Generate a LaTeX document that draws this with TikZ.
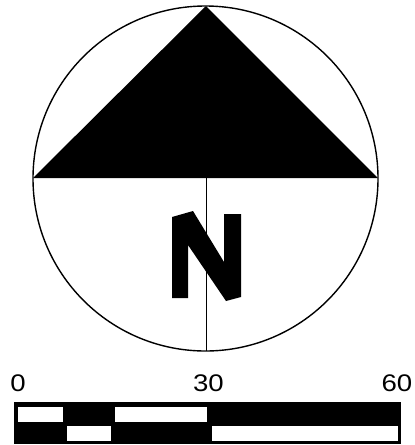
\documentclass[tikz,border=0pt]{standalone}
\usepackage{fontspec}
\setmainfont{Liberation Sans}
\begin{document}
\begin{tikzpicture}[x=1pt,y=-1pt,
  lbl/.style={inner sep=0pt,font=\fontsize{24}{24}\selectfont,xscale=1.15},
  wbox/.style={fill=white,draw=none}]
\useasboundingbox (0,0) rectangle (415,445);
% compass
\fill[black] (33,178) -- (206,6) -- (378,178) -- cycle;
\draw[line width=1.4pt] (205.5,178.5) circle[radius=172.5];
\coordinate (base) at (206,178);
\coordinate (bottom) at (206,351);
\draw[line width=1pt] (base) -- (bottom);
% N letter
\fill[black] (172,217) -- (193,211) -- (224,262) -- (224,214) -- (241,214)
  -- (241,297) -- (226,301) -- (188,245) -- (188,298) -- (172,298) -- cycle;
% scale bar
\fill[black] (14.3,401.7) rectangle (401,444);
\fill[wbox] (18,406.7) rectangle (63,421.7);
\fill[wbox] (115,406.7) rectangle (207,421.7);
\fill[wbox] (67,425.7) rectangle (111,440.7);
\fill[wbox] (211.7,425.7) rectangle (398.3,440.7);
% labels
\node[lbl] (l0) at (18,383.5) {0};
\node[lbl] (l30) at (208.5,383.5) {30};
\node[lbl] (l60) at (397,383.5) {60};
\end{tikzpicture}
\end{document}
